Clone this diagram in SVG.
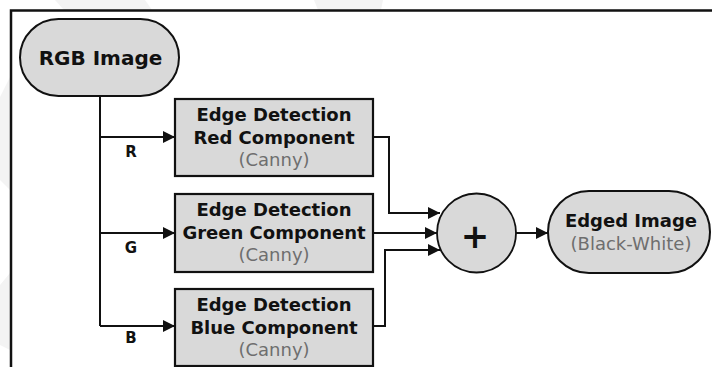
<svg xmlns="http://www.w3.org/2000/svg" width="712" height="367" viewBox="0 0 712 367">
  <style>
    .node { fill: #d9d9d9; stroke: #111; stroke-width: 2; }
    .box { fill: #d9d9d9; stroke: #111; stroke-width: 2.2; }
    .t { font-family: "DejaVu Sans", Verdana, sans-serif; font-size: 18px; font-weight: bold; fill: #111; text-anchor: middle; }
    .sub { font-family: "DejaVu Sans", Verdana, sans-serif; font-size: 18px; fill: #6e6e6e; text-anchor: middle; }
    .lbl { font-family: "DejaVu Sans", Verdana, sans-serif; font-size: 15px; font-weight: bold; fill: #111; text-anchor: middle; }
    .wire { fill: none; stroke: #111; stroke-width: 2; }
    .wm { fill: #f3f3f3; }
  </style>
  <defs>
    <marker id="arr" markerUnits="userSpaceOnUse" markerWidth="13" markerHeight="12" refX="12" refY="6" orient="auto">
      <path d="M0,0 L12,6 L0,12 Z" fill="#111"/>
    </marker>
  </defs>
  <rect x="0" y="0" width="712" height="367" fill="#ffffff"/>
  <g id="watermark">
    <polygon class="wm" points="55,0 145,0 152,10 64,10"/>
    <polygon class="wm" points="314,0 383,0 381,10 318,10"/>
    <polygon class="wm" points="0,97 10,77 10,190 0,180"/>
    <polygon class="wm" points="0,285 10,273 10,350 0,345"/>
  </g>
  <path d="M11,367 V10.5 H712" fill="none" stroke="#111" stroke-width="2.5"/>

  <g id="connectors">
    <path class="wire" d="M100,96 V326"/>
    <path class="wire" d="M100,137 H175" marker-end="url(#arr)"/>
    <path class="wire" d="M100,233 H175" marker-end="url(#arr)"/>
    <path class="wire" d="M100,326 H175" marker-end="url(#arr)"/>
    <path class="wire" d="M373,137 H389 V213 H440" marker-end="url(#arr)"/>
    <path class="wire" d="M373,233 H437" marker-end="url(#arr)"/>
    <path class="wire" d="M373,326 H385 V250 H440" marker-end="url(#arr)"/>
    <path class="wire" d="M516,233 H548" marker-end="url(#arr)"/>
    <text class="lbl" x="131" y="157">R</text>
    <text class="lbl" x="131" y="253">G</text>
    <text class="lbl" x="131" y="343">B</text>
  </g>

  <g id="rgb-image">
    <rect class="node" x="20" y="19" width="159" height="77" rx="38.5" ry="38.5"/>
    <text class="t" x="100.5" y="65" style="font-size:20px">RGB Image</text>
  </g>

  <g id="edge-red">
    <rect class="box" x="175" y="99" width="198" height="77"/>
    <text class="t" x="274" y="121">Edge Detection</text>
    <text class="t" x="274" y="144">Red Component</text>
    <text class="sub" x="274" y="166">(Canny)</text>
  </g>

  <g id="edge-green">
    <rect class="box" x="175" y="194" width="198" height="78"/>
    <text class="t" x="274" y="216">Edge Detection</text>
    <text class="t" x="274" y="239">Green Component</text>
    <text class="sub" x="274" y="261">(Canny)</text>
  </g>

  <g id="edge-blue">
    <rect class="box" x="175" y="289" width="198" height="77"/>
    <text class="t" x="274" y="311">Edge Detection</text>
    <text class="t" x="274" y="334">Blue Component</text>
    <text class="sub" x="274" y="356">(Canny)</text>
  </g>

  <g id="sum">
    <circle class="node" cx="476.5" cy="233" r="39.5" style="stroke-width:1.8"/>
    <text class="t" x="475" y="248" style="font-size:34px">+</text>
  </g>

  <g id="edged-image">
    <rect class="node" x="548" y="191" width="162" height="82" rx="41" ry="41"/>
    <text class="t" x="631" y="227">Edged Image</text>
    <text class="sub" x="631" y="250">(Black-White)</text>
  </g>
</svg>
